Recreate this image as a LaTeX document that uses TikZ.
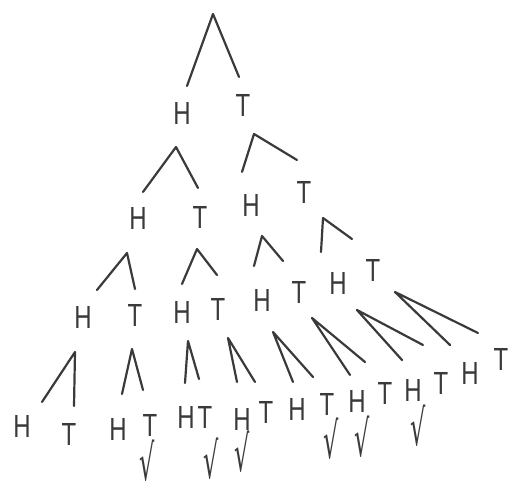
\documentclass[tikz,border=0pt]{standalone}
\usepackage{fontspec}
\setmainfont[FakeStretch=0.75]{Liberation Sans}
\newfontfamily\chkfont{DejaVu Sans}
\definecolor{ink}{HTML}{3A3A3A}
\tikzset{
  lbl/.style={inner sep=0pt, text=ink, font=\fontsize{32}{32}\selectfont},
  chk/.style={inner sep=0pt, text=ink, font=\chkfont\fontsize{40}{40}\selectfont, xscale=0.6, yscale=1.25},
  branch/.style={draw=ink, line width=2.2pt, line cap=round, line join=round}
}
\newcommand{\fork}[4]{%
  \coordinate (#1-top) at (#2);
  \coordinate (#1-l) at (#3);
  \coordinate (#1-r) at (#4);
  \draw[branch] (#1-l) -- (#1-top) -- (#1-r);}
\begin{document}
\begin{tikzpicture}[x=1pt,y=-1pt]
\useasboundingbox (0,0) rectangle (514,489);
% root
\fork{root}{213,14}{187,86}{239,77}
\node[lbl] (H) at (182,113) {H};
\node[lbl] (T) at (243,105) {T};
% level 2
\fork{H}{176,147}{143,192}{198,188}
\fork{T}{254,134}{242,172}{297,160}
\node[lbl] (HH) at (138,218) {H};
\node[lbl] (HT) at (200,217) {T};
\node[lbl] (TH) at (251,205) {H};
\node[lbl] (TT) at (304,192) {T};
% level 3
\fork{HH}{127,253}{97,290}{135,289}
\fork{HT}{197,249}{182,284}{217,275}
\fork{TH}{262,236}{254,266}{283,261}
\fork{TT}{323,218}{321,252}{352,239}
\node[lbl] (HHH) at (83,317) {H};
\node[lbl] (HHT) at (135,315) {T};
\node[lbl] (HTH) at (182,312) {H};
\node[lbl] (HTT) at (218,309) {T};
\node[lbl] (THH) at (262,300) {H};
\node[lbl] (THT) at (299,292) {T};
\node[lbl] (TTH) at (338,283) {H};
\node[lbl] (TTT) at (373,270) {T};
% level 4
\fork{HHH}{75,352}{42,402}{74,406}
\fork{HHT}{132,349}{122,394}{143,390}
\fork{HTH}{188,341}{185,383}{199,379}
\fork{HTT}{228,338}{237,382}{255,382}
\fork{THH}{273,332}{293,382}{313,377}
\fork{THT}{312,318}{350,375}{365,362}
\fork{TTH}{357,310}{402,360}{423,345}
\fork{TTT}{395,292}{450,345}{478,333}
\node[lbl] (HHHH) at (22,426) {H};
\node[lbl] (HHHT) at (69,434) {T};
\node[lbl] (HHTH) at (118,429) {H};
\node[lbl] (HHTT) at (150,425) {T};
\node[lbl] (HTHH) at (186,417) {H};
\node[lbl] (HTHT) at (205,417) {T};
\node[lbl] (HTTH) at (242,419) {H};
\node[lbl] (HTTT) at (266,412) {T};
\node[lbl] (THHH) at (297,409) {H};
\node[lbl] (THHT) at (327,404) {T};
\node[lbl] (THTH) at (357,401) {H};
\node[lbl] (THTT) at (385,393) {T};
\node[lbl] (TTHH) at (413,390) {H};
\node[lbl] (TTHT) at (441,383) {T};
\node[lbl] (TTTH) at (470,373) {H};
\node[lbl] (TTTT) at (501,359) {T};
% checks
\node[chk] (c1) at (147,461) {√};
\node[chk] (c2) at (211,459) {√};
\node[chk] (c3) at (242,452) {√};
\node[chk] (c4) at (331,439) {√};
\node[chk] (c5) at (362,437) {√};
\node[chk] (c6) at (418,426) {√};
\end{tikzpicture}
\end{document}
